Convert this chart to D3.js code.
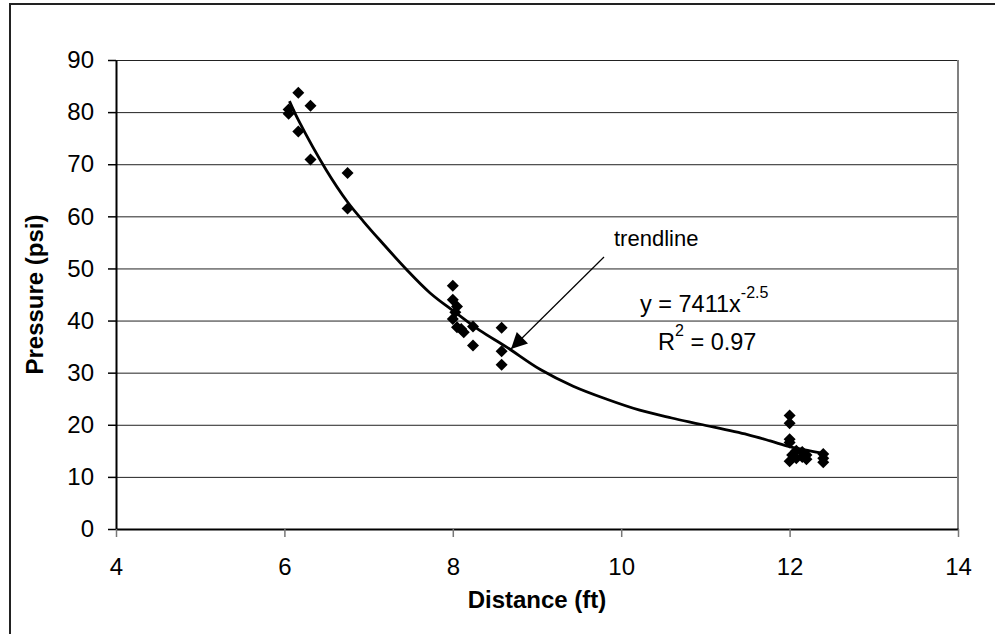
<!DOCTYPE html>
<html>
<head>
<meta charset="utf-8">
<script src="https://cdn.jsdelivr.net/npm/d3@7"></script>
<style>
  html, body { margin: 0; padding: 0; background: #fff; }
  text { font-family: "Liberation Sans", Arial, sans-serif; fill: #000; }
</style>
</head>
<body>
<svg id="chart"></svg>
<script>
// Measured points (ft, psi)
const distance = [6.05, 6.05, 6.165, 6.165, 6.31, 6.31, 6.75, 6.75,
  8.0, 8.0, 8.05, 8.03, 8.0, 8.05, 8.13, 8.1, 8.24, 8.24, 8.58, 8.58, 8.58,
  12.0, 12.0, 12.0, 12.0, 12.0, 12.03, 12.08, 12.08, 12.15, 12.15, 12.2, 12.2, 12.4, 12.4, 12.4];
const pressure = [80.5, 79.7, 83.7, 76.3, 81.2, 70.9, 68.3, 61.5,
  46.7, 44.0, 42.7, 41.6, 40.3, 38.7, 37.75, 38.4, 38.85, 35.2, 38.6, 34.1, 31.5,
  21.8, 20.3, 17.2, 16.6, 13.0, 14.2, 15.0, 13.6, 14.8, 13.8, 13.4, 14.2, 14.4, 13.6, 12.8];

// Trendline as drawn in the picture
const trendX = [6.06, 6.165, 6.5, 6.75, 6.94, 7.135, 7.45, 7.73, 8.01, 8.32, 8.64, 9.04, 9.43, 9.83, 10.22, 10.6, 10.94, 11.5, 11.77, 12.0, 12.24, 12.4];
const trendY = [82.1, 78.5, 68.8, 62.75, 59.0, 55.4, 49.8, 45.3, 41.8, 38.1, 34.9, 30.6, 27.4, 24.9, 22.8, 21.3, 20.1, 18.1, 16.9, 15.8, 15.0, 14.5];

// Tick labels
const xTicks = [4, 6, 8, 10, 12, 14];
const yTicks = [0, 10, 20, 30, 40, 50, 60, 70, 80, 90];

document.addEventListener("DOMContentLoaded", function() {
  const W = 995, H = 634;
  const margin = {top: 60, right: 37, bottom: 105, left: 116};
  const width = W - margin.left - margin.right;
  const height = H - margin.top - margin.bottom;

  const root = d3.select("#chart").attr("width", W).attr("height", H);

  // outer chart frame (runs off the right and bottom)
  root.append("rect")
    .attr("x", 10).attr("y", 4)
    .attr("width", 1000).attr("height", 700)
    .attr("fill", "#fff")
    .attr("stroke", "#222")
    .attr("stroke-width", 2);

  const svg = root.append("g")
    .attr("transform", `translate(${margin.left},${margin.top})`);

  const x = d3.scaleLinear().domain([4, 14]).range([0, width]);
  const y = d3.scaleLinear().domain([0, 90]).range([height, 0]);

  // gridlines
  svg.append("g")
    .call(d3.axisLeft(y).tickValues(yTicks.slice(1)).tickSize(-width).tickFormat(""))
    .call(g => g.select(".domain").remove())
    .call(g => g.selectAll("line").attr("stroke", "#222").attr("stroke-width", 1));

  // right border of plot
  svg.append("line")
    .attr("x1", width).attr("x2", width)
    .attr("y1", 0).attr("y2", height)
    .attr("stroke", "#808080").attr("stroke-width", 2);

  // y axis
  const yAxis = svg.append("g")
    .call(d3.axisLeft(y).tickValues(yTicks).tickSize(8).tickPadding(14).tickSizeOuter(0));
  yAxis.select(".domain").attr("stroke", "#000").attr("stroke-width", 2);
  yAxis.selectAll("line").attr("stroke", "#000").attr("stroke-width", 1.5);
  yAxis.selectAll("text").attr("font-size", 24).attr("font-family", "Liberation Sans, Arial, sans-serif");

  // x axis
  const xAxis = svg.append("g")
    .attr("transform", `translate(0,${height})`)
    .call(d3.axisBottom(x).tickValues(xTicks).tickSize(8).tickPadding(21).tickSizeOuter(0));
  xAxis.select(".domain").attr("stroke", "#000").attr("stroke-width", 2);
  xAxis.selectAll("line").attr("stroke", "#777").attr("stroke-width", 1.5);
  xAxis.selectAll("text").attr("font-size", 24).attr("font-family", "Liberation Sans, Arial, sans-serif");

  // axis titles
  svg.append("text")
    .attr("x", width / 2).attr("y", height + 79)
    .attr("text-anchor", "middle")
    .attr("font-size", 24).attr("font-weight", "bold")
    .text("Distance (ft)");

  svg.append("text")
    .attr("transform", `translate(${43 - margin.left},${height / 2}) rotate(-90)`)
    .attr("text-anchor", "middle")
    .attr("font-size", 24).attr("font-weight", "bold")
    .text("Pressure (psi)");

  // trendline
  const line = d3.line()
    .x((d, i) => x(trendX[i]))
    .y(d => y(d))
    .curve(d3.curveCatmullRom);
  svg.append("path")
    .datum(trendY)
    .attr("d", line)
    .attr("fill", "none")
    .attr("stroke", "#000")
    .attr("stroke-width", 2.8);

  // data points (diamonds)
  const diamond = d3.symbol(d3.symbolSquare, 72);
  svg.selectAll(".pt")
    .data(pressure)
    .enter().append("path")
    .attr("class", "pt")
    .attr("d", diamond)
    .attr("transform", (d, i) => `translate(${x(distance[i])},${y(d)}) rotate(45)`)
    .attr("fill", "#000");

  // arrow pointing at the trendline
  const defs = root.append("defs");
  defs.append("marker")
    .attr("id", "arrow")
    .attr("viewBox", "0 0 10 10")
    .attr("refX", 10).attr("refY", 5)
    .attr("markerWidth", 18).attr("markerHeight", 16)
    .attr("markerUnits", "userSpaceOnUse")
    .attr("orient", "auto")
    .append("path")
    .attr("d", "M0,0L10,5L0,10z")
    .attr("fill", "#000");

  root.append("line")
    .attr("x1", 604).attr("y1", 257)
    .attr("x2", 511).attr("y2", 349)
    .attr("stroke", "#000").attr("stroke-width", 1.2)
    .attr("marker-end", "url(#arrow)");

  root.append("text")
    .attr("x", 614).attr("y", 246)
    .attr("font-size", 22)
    .text("trendline");

  // equation labels
  const eq = root.append("text")
    .attr("x", 640).attr("y", 312)
    .attr("font-size", 23.5);
  eq.append("tspan").text("y = 7411x");
  eq.append("tspan").attr("font-size", 16).attr("dy", -14).text("-2.5");

  const r2 = root.append("text")
    .attr("x", 658).attr("y", 350)
    .attr("font-size", 23.5);
  r2.append("tspan").text("R");
  r2.append("tspan").attr("font-size", 16).attr("dy", -14).text("2");
  r2.append("tspan").attr("dy", 14).text(" = 0.97");
});
</script>
</body>
</html>
